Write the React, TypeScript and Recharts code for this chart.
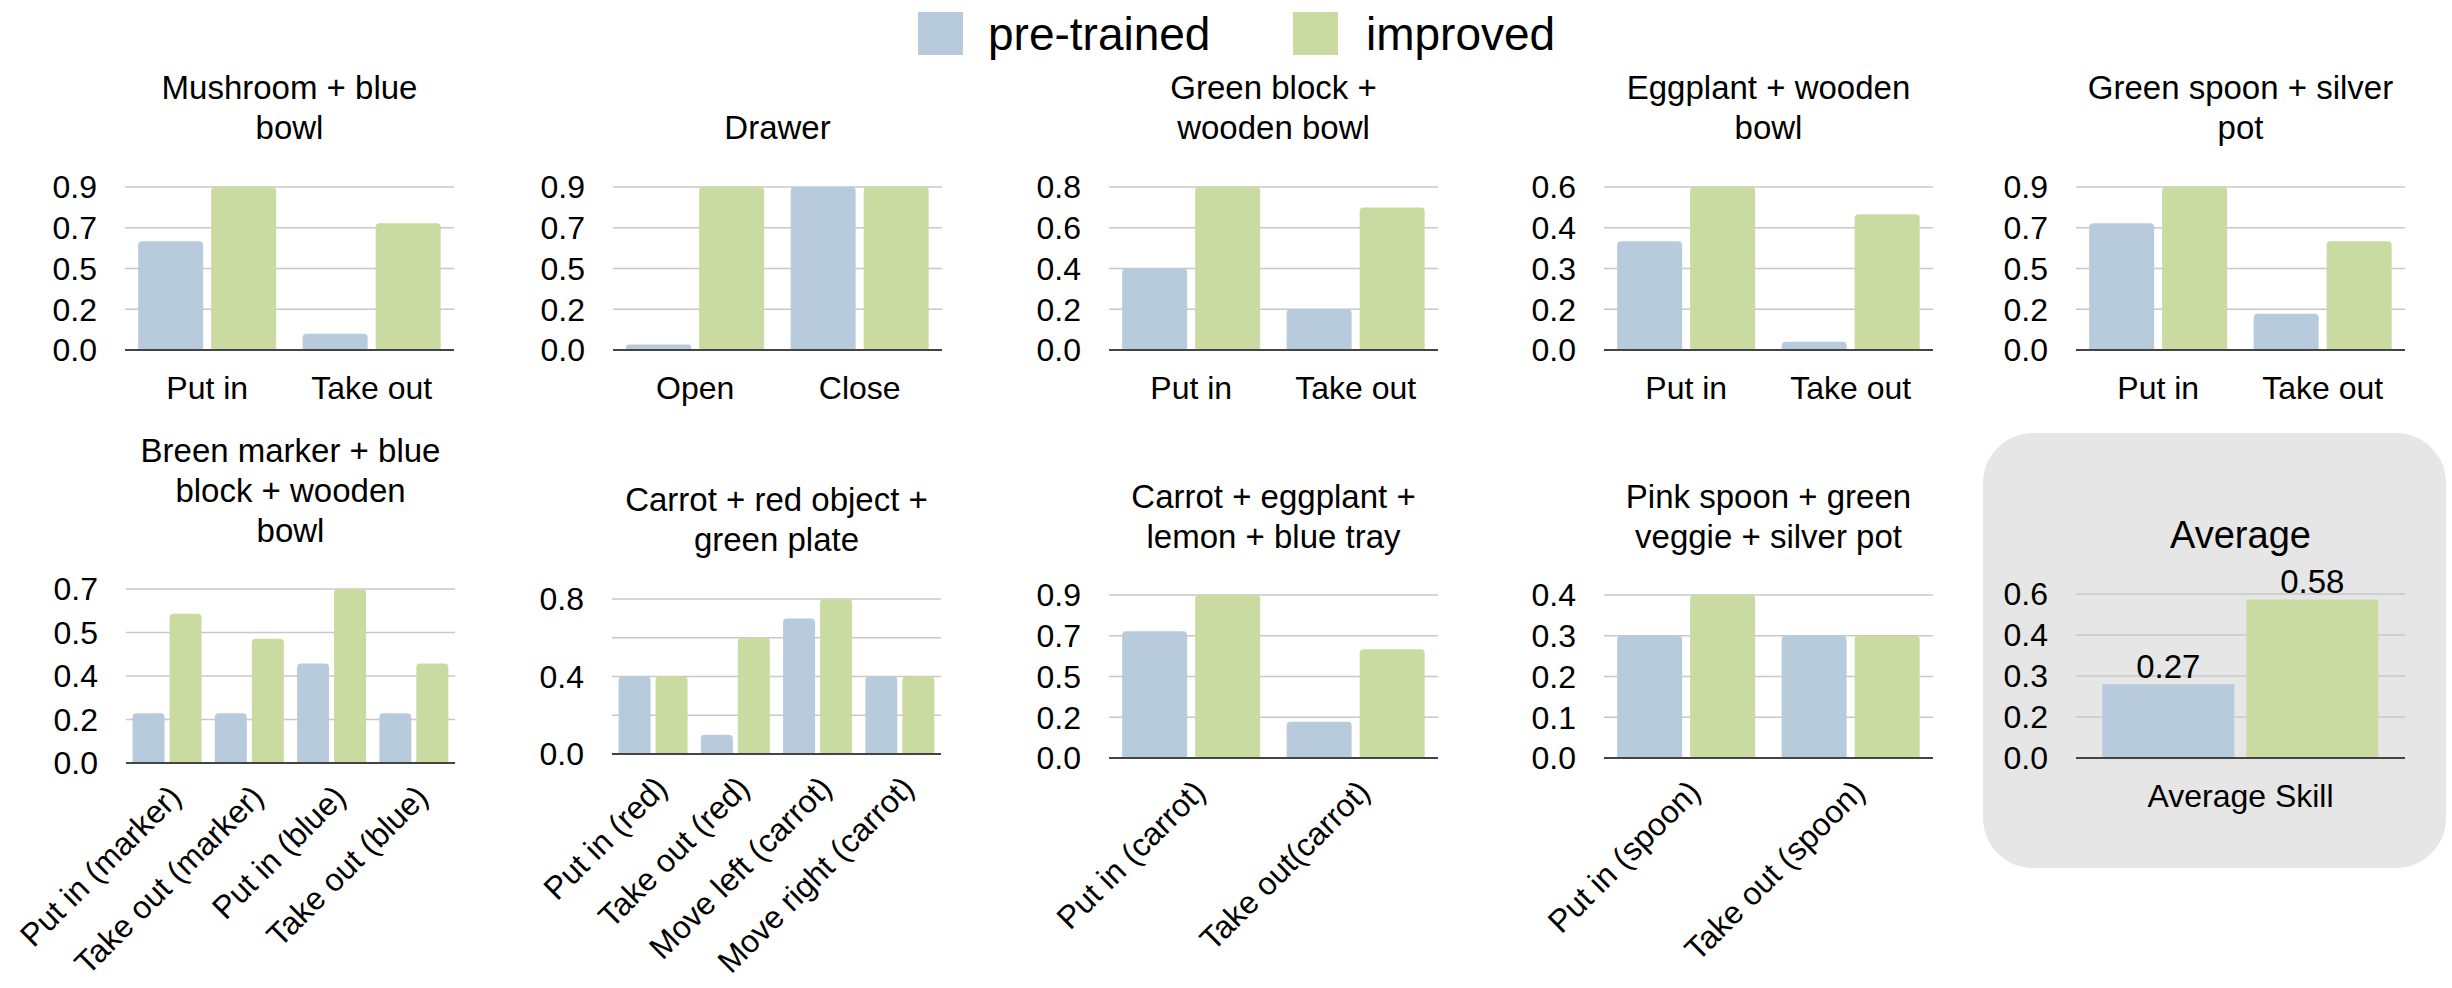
import React from "react";
import { BarChart, Bar, XAxis, YAxis, CartesianGrid, LabelList } from "recharts";

// ---- data ----
const mushroomCats = ["Put in", "Take out"];
const mushroomPre = [0.6, 0.09];
const mushroomImp = [0.9, 0.7];

const drawerCats = ["Open", "Close"];
const drawerPre = [0.03, 0.9];
const drawerImp = [0.9, 0.9];

const greenBlockCats = ["Put in", "Take out"];
const greenBlockPre = [0.4, 0.2];
const greenBlockImp = [0.8, 0.7];

const eggplantCats = ["Put in", "Take out"];
const eggplantPre = [0.4, 0.03];
const eggplantImp = [0.6, 0.5];

const greenSpoonCats = ["Put in", "Take out"];
const greenSpoonPre = [0.7, 0.2];
const greenSpoonImp = [0.9, 0.6];

const markerCats = ["Put in (marker)", "Take out (marker)", "Put in (blue)", "Take out (blue)"];
const markerPre = [0.2, 0.2, 0.4, 0.2];
const markerImp = [0.6, 0.5, 0.7, 0.4];

const carrotRedCats = ["Put in (red)", "Take out (red)", "Move left (carrot)", "Move right (carrot)"];
const carrotRedPre = [0.4, 0.1, 0.7, 0.4];
const carrotRedImp = [0.4, 0.6, 0.8, 0.4];

const carrotTrayCats = ["Put in (carrot)", "Take out(carrot)"];
const carrotTrayPre = [0.7, 0.2];
const carrotTrayImp = [0.9, 0.6];

const pinkSpoonCats = ["Put in (spoon)", "Take out (spoon)"];
const pinkSpoonPre = [0.3, 0.3];
const pinkSpoonImp = [0.4, 0.3];

const avgCats = ["Average Skill"];
const avgPre = [0.27];
const avgImp = [0.58];

// axis ticks (evenly spaced) and the rounded labels shown next to them
const ticks09 = [0, 0.225, 0.45, 0.675, 0.9];
const labels09 = ["0.0", "0.2", "0.5", "0.7", "0.9"];
const ticks08 = [0, 0.2, 0.4, 0.6, 0.8];
const labels08 = ["0.0", "0.2", "0.4", "0.6", "0.8"];
const labels08sparse = ["0.0", "", "0.4", "", "0.8"];
const ticks06 = [0, 0.15, 0.3, 0.45, 0.6];
const labels06 = ["0.0", "0.2", "0.3", "0.4", "0.6"];
const ticks07 = [0, 0.175, 0.35, 0.525, 0.7];
const labels07 = ["0.0", "0.2", "0.4", "0.5", "0.7"];
const ticks04 = [0, 0.1, 0.2, 0.3, 0.4];
const labels04 = ["0.0", "0.1", "0.2", "0.3", "0.4"];

const PRE = "#b8cbdd";
const IMP = "#c9dba0";
const FONT = '"Liberation Sans", Arial, Helvetica, sans-serif';
const PLOT_W = 329;

const RotTick = (props: any) => {
  const { x, y, payload } = props;
  const ax = x + 8;
  const ay = y + 22;
  return (
    <text
      x={ax}
      y={ay}
      dy="0.35em"
      textAnchor="end"
      fontSize={32}
      fontFamily={FONT}
      fill="#000"
      transform={`rotate(-45, ${ax}, ${ay})`}
    >
      {payload.value}
    </text>
  );
};

interface PanelProps {
  title: string[];
  titleY: number;
  titleSize?: number;
  cats: string[];
  pre: number[];
  imp: number[];
  ticks: number[];
  tickLabels: string[];
  left: number;
  top: number;
  bottom: number;
  rotate?: boolean;
  barGap: number;
  avg?: boolean;
}

function Panel(p: PanelProps) {
  const data = p.cats.map((c, i) => ({ cat: c, pre: p.pre[i], imp: p.imp[i] }));
  const yW = 110;
  const mTop = 30;
  const xH = p.rotate ? 260 : 70;
  const w = yW + PLOT_W + 10;
  const h = mTop + (p.bottom - p.top) + xH;
  const radius: [number, number, number, number] = p.avg ? [0, 0, 0, 0] : [4, 4, 0, 0];
  const lh = 40;
  const n = p.title.length;
  return (
    <>
      <div
        style={{
          position: "absolute",
          left: p.left + PLOT_W / 2 - 250,
          width: 500,
          top: p.titleY - lh / 2 - (n - 1) * lh,
          textAlign: "center",
          fontSize: p.titleSize ?? 33,
          lineHeight: `${lh}px`,
          fontFamily: FONT,
          color: "#000",
        }}
      >
        {p.title.map((t, i) => (
          <div key={i}>{t}</div>
        ))}
      </div>
      <div style={{ position: "absolute", left: p.left - yW, top: p.top - mTop }}>
        <BarChart
          width={w}
          height={h}
          data={data}
          margin={{ top: mTop, right: 10, left: 0, bottom: 0 }}
          barCategoryGap="8%"
          barGap={p.barGap}
        >
          <CartesianGrid vertical={false} stroke="#c8c8c8" strokeWidth={1.5} />
          <XAxis
            dataKey="cat"
            height={xH}
            interval={0}
            tickLine={false}
            axisLine={{ stroke: "#444", strokeWidth: 2 }}
            tickMargin={p.rotate ? 0 : 20}
            tick={p.rotate ? <RotTick /> : { fontSize: 32, fill: "#000", fontFamily: FONT }}
          />
          <YAxis
            width={yW}
            domain={[0, p.ticks[p.ticks.length - 1]]}
            ticks={p.ticks}
            interval={0}
            tickFormatter={(v: number, i: number) => p.tickLabels[i]}
            axisLine={false}
            tickLine={false}
            tickMargin={22}
            tick={{ fontSize: 32, fill: "#000", fontFamily: FONT }}
          />
          <Bar dataKey="pre" fill={PRE} radius={radius} isAnimationActive={false}>
            {p.avg && (
              <LabelList dataKey="pre" position="top" offset={6} fontSize={33} fill="#000" fontFamily={FONT} formatter={(v: any) => Number(v).toFixed(2)} />
            )}
          </Bar>
          <Bar dataKey="imp" fill={IMP} radius={radius} isAnimationActive={false}>
            {p.avg && (
              <LabelList dataKey="imp" position="top" offset={6} fontSize={33} fill="#000" fontFamily={FONT} formatter={(v: any) => Number(v).toFixed(2)} />
            )}
          </Bar>
        </BarChart>
      </div>
    </>
  );
}

export default function App() {
  const legendText: React.CSSProperties = {
    position: "absolute",
    top: 8,
    fontSize: 46,
    lineHeight: "52px",
    fontFamily: FONT,
    color: "#000",
  };
  return (
    <div
      style={{
        position: "absolute",
        left: 0,
        top: 0,
        width: 2452,
        height: 988,
        background: "#fff",
        overflow: "hidden",
        fontFamily: FONT,
      }}
    >
      {/* legend */}
      <div style={{ position: "absolute", left: 918, top: 12, width: 45, height: 43, background: PRE }} />
      <div style={{ ...legendText, left: 988 }}>pre-trained</div>
      <div style={{ position: "absolute", left: 1293, top: 12, width: 45, height: 43, background: IMP }} />
      <div style={{ ...legendText, left: 1366 }}>improved</div>

      {/* average backdrop */}
      <div
        style={{
          position: "absolute",
          left: 1983,
          top: 433,
          width: 463,
          height: 435,
          borderRadius: 50,
          background: "#e6e6e6",
        }}
      />

      {/* row 1 */}
      <Panel title={["Mushroom + blue", "bowl"]} titleY={128} cats={mushroomCats} pre={mushroomPre} imp={mushroomImp}
        ticks={ticks09} tickLabels={labels09} left={125} top={187} bottom={350} barGap={8} />
      <Panel title={["Drawer"]} titleY={128} cats={drawerCats} pre={drawerPre} imp={drawerImp}
        ticks={ticks09} tickLabels={labels09} left={613} top={187} bottom={350} barGap={8} />
      <Panel title={["Green block +", "wooden bowl"]} titleY={128} cats={greenBlockCats} pre={greenBlockPre} imp={greenBlockImp}
        ticks={ticks08} tickLabels={labels08} left={1109} top={187} bottom={350} barGap={8} />
      <Panel title={["Eggplant + wooden", "bowl"]} titleY={128} cats={eggplantCats} pre={eggplantPre} imp={eggplantImp}
        ticks={ticks06} tickLabels={labels06} left={1604} top={187} bottom={350} barGap={8} />
      <Panel title={["Green spoon + silver", "pot"]} titleY={128} cats={greenSpoonCats} pre={greenSpoonPre} imp={greenSpoonImp}
        ticks={ticks09} tickLabels={labels09} left={2076} top={187} bottom={350} barGap={8} />

      {/* row 2 */}
      <Panel title={["Breen marker + blue", "block + wooden", "bowl"]} titleY={531} cats={markerCats} pre={markerPre} imp={markerImp}
        ticks={ticks07} tickLabels={labels07} left={126} top={589} bottom={763} barGap={5} rotate />
      <Panel title={["Carrot + red object +", "green plate"]} titleY={540} cats={carrotRedCats} pre={carrotRedPre} imp={carrotRedImp}
        ticks={ticks08} tickLabels={labels08sparse} left={612} top={599} bottom={754} barGap={5} rotate />
      <Panel title={["Carrot + eggplant +", "lemon + blue tray"]} titleY={537} cats={carrotTrayCats} pre={carrotTrayPre} imp={carrotTrayImp}
        ticks={ticks09} tickLabels={labels09} left={1109} top={595} bottom={758} barGap={8} rotate />
      <Panel title={["Pink spoon + green", "veggie + silver pot"]} titleY={537} cats={pinkSpoonCats} pre={pinkSpoonPre} imp={pinkSpoonImp}
        ticks={ticks04} tickLabels={labels04} left={1604} top={595} bottom={758} barGap={8} rotate />
      <Panel title={["Average"]} titleY={535} titleSize={38} cats={avgCats} pre={avgPre} imp={avgImp}
        ticks={ticks06} tickLabels={labels06} left={2076} top={594} bottom={758} barGap={12} avg />
    </div>
  );
}
